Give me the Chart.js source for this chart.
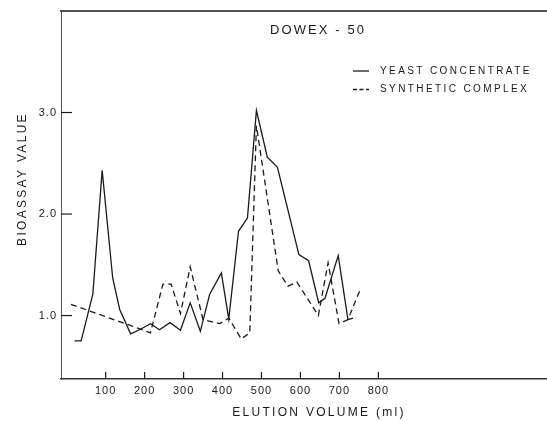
<!DOCTYPE html>
<html lang="en">
<head>
<meta charset="UTF-8">
<title>Dowex-50 Elution</title>
<script src="https://cdn.jsdelivr.net/npm/chart.js@4.4.3/dist/chart.umd.min.js"></script>
<style>
  html, body { margin: 0; padding: 0; background: #fff; }
  #wrap { width: 547px; height: 421px; }
</style>
</head>
<body>
<div id="wrap"><canvas id="dowex-chart" width="547" height="421"></canvas></div>
<script>
// Readings taken off the original figure (elution volume in ml, bioassay value)
const yeastVolume = [20, 37, 67, 91, 118, 136, 164, 187, 215, 238, 265, 292, 317, 343, 367, 397, 416, 441, 464, 487, 515, 541, 596, 621, 647, 663, 697, 722, 735];
const yeastValue = [0.75, 0.75, 1.21, 2.43, 1.37, 1.06, 0.82, 0.86, 0.92, 0.86, 0.93, 0.855, 1.125, 0.845, 1.21, 1.42, 0.965, 1.83, 1.96, 3.02, 2.56, 2.46, 1.6, 1.54, 1.125, 1.17, 1.59, 0.96, 0.975];

const syntheticVolume = [11, 165, 215, 247, 268, 292, 317, 350, 393, 416, 448, 470, 487, 543, 568, 591, 646, 671, 699, 722, 755];
const syntheticValue = [1.11, 0.90, 0.83, 1.31, 1.31, 1.02, 1.48, 0.96, 0.92, 0.975, 0.77, 0.83, 2.87, 1.44, 1.29, 1.33, 1.0, 1.52, 0.92, 0.96, 1.27];

const xTicks = [100, 200, 300, 400, 500, 600, 700, 800];
const yTicks = [1, 2, 3];

const seriesLabels = ['YEAST CONCENTRATE', 'SYNTHETIC COMPLEX'];

const INK = '#1a1a1a';
const FONT = "'Liberation Sans', Arial, sans-serif";

function toPoints(xs, ys) {
  return xs.map((v, i) => ({ x: v, y: ys[i] }));
}

function line(ctx, x1, y1, x2, y2) {
  ctx.beginPath();
  ctx.moveTo(x1, y1);
  ctx.lineTo(x2, y2);
  ctx.stroke();
}

// inward tick marks, top frame line, title, legend and axis titles
const inkPlugin = {
  id: 'ink',
  beforeDraw(chart) {
    chart.ctx.letterSpacing = '1px';
  },
  afterDraw(chart) {
    const { ctx, chartArea: a, scales } = chart;
    ctx.save();
    ctx.strokeStyle = INK;
    ctx.lineWidth = 1.2;
    yTicks.forEach(v => {
      const py = scales.y.getPixelForValue(v);
      line(ctx, a.left, py, a.left + 11, py);
    });
    xTicks.forEach(v => {
      const px = scales.x.getPixelForValue(v);
      line(ctx, px, a.bottom, px, a.bottom - 7);
    });
    ctx.lineWidth = 1.5;
    line(ctx, a.left - 1, a.top, a.right, a.top);

    ctx.fillStyle = INK;
    ctx.textBaseline = 'middle';

    // title
    ctx.font = '13px ' + FONT;
    ctx.letterSpacing = '2.1px';
    ctx.textAlign = 'center';
    ctx.fillText('DOWEX - 50', 318, 30);

    // legend
    ctx.font = '10px ' + FONT;
    ctx.letterSpacing = '2.4px';
    ctx.textAlign = 'left';
    const rows = [71, 89.5];
    chart.data.datasets.forEach((ds, i) => {
      const ry = rows[i];
      ctx.save();
      ctx.lineWidth = 1.3;
      ctx.setLineDash(i === 0 ? [] : [4, 2.5]);
      line(ctx, 353, ry, 369, ry);
      ctx.restore();
      ctx.fillText(ds.label, 380, ry);
    });

    // axis titles
    ctx.font = '12px ' + FONT;
    ctx.letterSpacing = '2.3px';
    ctx.textAlign = 'center';
    ctx.fillText('ELUTION VOLUME (ml)', 319, 413);
    ctx.save();
    ctx.translate(23, 179);
    ctx.rotate(-Math.PI / 2);
    ctx.fillText('BIOASSAY VALUE', 0, 0);
    ctx.restore();
    ctx.restore();
  }
};

new Chart(document.getElementById('dowex-chart'), {
  type: 'line',
  data: {
    datasets: [
      {
        label: seriesLabels[0],
        data: toPoints(yeastVolume, yeastValue),
        borderColor: INK,
        borderWidth: 1.3,
        pointRadius: 0,
        tension: 0
      },
      {
        label: seriesLabels[1],
        data: toPoints(syntheticVolume, syntheticValue),
        borderColor: INK,
        borderWidth: 1.3,
        borderDash: [6, 4],
        pointRadius: 0,
        tension: 0
      }
    ]
  },
  options: {
    responsive: false,
    animation: false,
    devicePixelRatio: 1,
    layout: { padding: { top: 11, left: 0, right: 0, bottom: 0 } },
    plugins: {
      legend: { display: false },
      title: { display: false },
      tooltip: { enabled: false }
    },
    scales: {
      x: {
        type: 'linear',
        position: 'bottom',
        min: -14.7,
        max: 1233,
        afterBuildTicks: s => { s.ticks = xTicks.map(v => ({ value: v })); },
        afterFit: s => { s.height = 42; },
        grid: { drawOnChartArea: false, drawTicks: false },
        border: { color: '#333', width: 1.5 },
        ticks: {
          autoSkip: false,
          maxRotation: 0,
          padding: 5,
          color: INK,
          font: { family: FONT, size: 11 },
          callback: v => String(v)
        }
      },
      y: {
        type: 'linear',
        min: 0.375,
        max: 4.0,
        afterBuildTicks: s => { s.ticks = yTicks.map(v => ({ value: v })); },
        afterFit: s => { s.width = 61; },
        grid: { drawOnChartArea: false, drawTicks: false },
        border: { color: '#555', width: 1 },
        ticks: {
          padding: 4,
          color: INK,
          font: { family: FONT, size: 11 },
          callback: v => v.toFixed(1)
        }
      }
    }
  },
  plugins: [inkPlugin]
});
</script>
</body>
</html>
